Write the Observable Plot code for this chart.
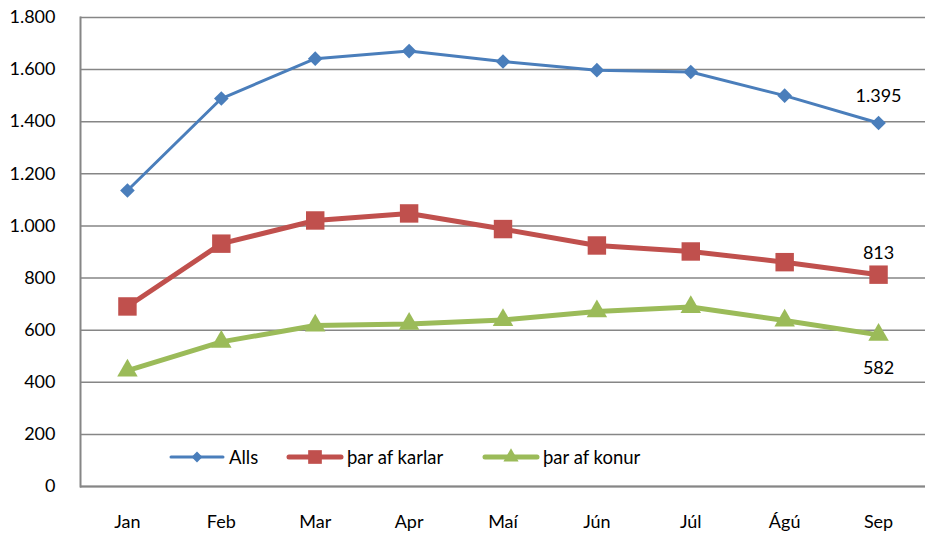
<!DOCTYPE html>
<html>
<head>
<meta charset="utf-8">
<script src="https://cdn.jsdelivr.net/npm/d3@7"></script>
<script src="https://cdn.jsdelivr.net/npm/@observablehq/plot@0.6"></script>
<style>
  html, body { margin: 0; padding: 0; background: #fff; }
  #wrap { position: relative; width: 925px; height: 536px; font-family: Lato, "Open Sans", sans-serif; }
  .item { position: absolute; top: 446px; display: flex; align-items: center; font-size: 18.5px; color: #000; white-space: nowrap; }
  .item span { margin-left: 3px; }
</style>
</head>
<body>
<div id="wrap"></div>
<script>
const months = ["Jan", "Feb", "Mar", "Apr", "Maí", "Jún", "Júl", "Ágú", "Sep"];
const seriesNames = ["Alls", "þar af karlar", "þar af konur"];
const alls   = [1136, 1489, 1642, 1671, 1631, 1598, 1591, 1500, 1395];
const karlar = [691, 932, 1021, 1048, 988, 925, 902, 861, 813];
const konur  = [445, 555, 618, 624, 639, 672, 689, 637, 582];
const yTicks = [0, 200, 400, 600, 800, 1000, 1200, 1400, 1600, 1800];

const colors = ["#4A7EBB", "#C0504D", "#9BBB59"];
const symbols = ["diamond2", "square", "triangle"];
const radii = [6.6, 10.4, 7.6];
const widths = [3, 5, 5];
const labelDy = [-27, -21, 33];
const legendLeft = [168, 286, 482];

const values = [alls, karlar, konur];
const data = [];
values.forEach((vals, s) => vals.forEach((v, i) => data.push({series: seriesNames[s], month: months[i], value: v})));

const locale = d3.formatLocale({thousands: ".", decimal: ",", grouping: [3], currency: ["", ""]});
const fmt = locale.format(",");

const marks = [
  Plot.gridY(yTicks, {stroke: "#868686", strokeOpacity: 1, strokeWidth: 1.5}),
  Plot.ruleY([0], {stroke: "#868686", strokeWidth: 2}),
  Plot.frame({anchor: "left", stroke: "#868686", strokeWidth: 2}),
  Plot.axisY(yTicks, {tickSize: 0, tickPadding: 25, tickFormat: fmt, fontSize: 18, fill: "#000"}),
  Plot.axisX({tickSize: 0, tickPadding: 29, fontSize: 18, fill: "#000"})
];
seriesNames.forEach((name, s) => {
  const d = data.filter(r => r.series === name);
  marks.push(Plot.line(d, {x: "month", y: "value", stroke: colors[s], strokeWidth: widths[s], strokeLinejoin: "round"}));
  marks.push(Plot.dot(d, {x: "month", y: "value", fill: colors[s], symbol: symbols[s], r: radii[s], stroke: "none"}));
  marks.push(Plot.text(d.slice(-1), {x: "month", y: "value", text: r => fmt(r.value), dy: labelDy[s], fontSize: 18, fill: "#000"}));
});

const chart = Plot.plot({
  width: 925,
  height: 536,
  marginLeft: 80,
  marginRight: 0,
  marginTop: 17,
  marginBottom: 50,
  style: {fontFamily: "Lato, 'Open Sans', sans-serif", background: "#fff", overflow: "visible"},
  x: {type: "point", domain: months, padding: 0.5, round: false, label: null},
  y: {domain: [0, 1800], label: null},
  marks
});
const wrap = document.getElementById("wrap");
wrap.appendChild(chart);

// legend
const symFns = [d3.symbolDiamond2, d3.symbolSquare, d3.symbolTriangle];
seriesNames.forEach((name, s) => {
  const item = document.createElement("div");
  item.className = "item";
  item.style.left = legendLeft[s] + "px";
  const sym = d3.symbol(symFns[s], Math.PI * radii[s] * radii[s] * 0.55)();
  item.innerHTML = `<svg width="58" height="22"><line x1="3" x2="55" y1="11" y2="11" stroke="${colors[s]}" stroke-width="${widths[s]}" stroke-linecap="round"/><path d="${sym}" transform="translate(29,11)" fill="${colors[s]}"/></svg><span>${name}</span>`;
  wrap.appendChild(item);
});
</script>
</body>
</html>
